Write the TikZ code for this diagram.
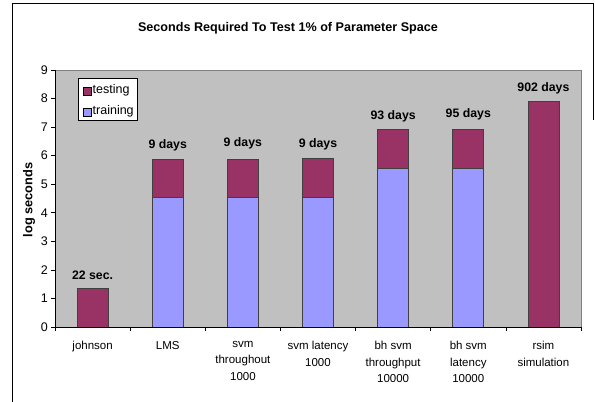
\documentclass[tikz,border=0pt]{standalone}
\usepackage{fontspec}
\setmainfont{Liberation Sans}
\definecolor{testc}{HTML}{993366}
\definecolor{trainc}{HTML}{9999FF}
\definecolor{plotbg}{HTML}{C0C0C0}
\begin{document}
\begin{tikzpicture}[x=1pt,y=-1pt,
  testbar/.style={fill=testc,draw=black!75,line width=0.7pt},
  trainbar/.style={fill=trainc,draw=black!75,line width=0.7pt},
  datalbl/.style={font=\fontsize{12.3}{14}\selectfont\bfseries,inner sep=0pt},
  catlbl/.style={font=\fontsize{11.5}{16.5}\selectfont,align=center,anchor=north,inner sep=0pt},
  ticklbl/.style={font=\fontsize{12.5}{14}\selectfont,anchor=east,inner sep=0pt},
  leglbl/.style={font=\fontsize{12.5}{14}\selectfont,anchor=west,inner sep=0pt},
  axisline/.style={draw=black,line width=0.6pt}]
\useasboundingbox (0,0) rectangle (595,402);
% outer frame
\draw[line width=0.8pt] (12,402) -- (12,3) -- (593,3) -- (593,120);
% title
\node[font=\fontsize{12.6}{14}\selectfont\bfseries,inner sep=0pt] (title) at (288,28) {Seconds Required To Test 1\% of Parameter Space};
% plot area
\fill[plotbg] (55,70) rectangle (581,327);
\draw[black!50,line width=0.7pt] (55,70) -- (581,70) -- (581,327);
% bars
\foreach \i/\tr/\tot in {0/0/1.342,1/4.54/5.87,2/4.54/5.87,3/4.54/5.91,4/5.56/6.905,5/5.56/6.914,6/0/7.89}{
  \pgfmathsetmacro{\xc}{55+75.143*(\i+0.5)}
  \pgfmathsetmacro{\ytr}{327-28.56*\tr}
  \pgfmathsetmacro{\ytot}{327-28.56*\tot}
  \ifdim\tr pt>0pt
    \draw[trainbar] (\xc-15.5,327) rectangle (\xc+15.5,\ytr);
  \fi
  \draw[testbar] (\xc-15.5,\ytr) rectangle (\xc+15.5,\ytot);
  \coordinate (top\i) at (\xc,\ytot);
}
% axes
\draw[axisline] (55,70) -- (55,327) -- (581,327);
\foreach \v in {0,...,9}{
  \pgfmathsetmacro{\yy}{327-28.56*\v}
  \draw[axisline] (51,\yy) -- (55,\yy);
  \node[ticklbl] (tick\v) at (48,\yy) {\v};
}
\foreach \k in {0,...,7}{
  \pgfmathsetmacro{\xx}{55+75.143*\k}
  \draw[axisline] (\xx,327) -- (\xx,331);
}
% axis title
\node[font=\fontsize{12.8}{14}\selectfont\bfseries,rotate=90,inner sep=0pt] (ytitle) at (29,200) {log seconds};
% data labels
\node[datalbl] (d0) at ([yshift=13.7pt]top0) {22 sec.};
\node[datalbl] (d1) at ([yshift=13.7pt]top1) {9 days};
\node[datalbl] (d2) at ([yshift=16pt]top2) {9 days};
\node[datalbl] (d3) at ([yshift=13.7pt]top3) {9 days};
\node[datalbl] (d4) at ([yshift=13.7pt]top4) {93 days};
\node[datalbl] (d5) at ([yshift=15pt]top5) {95 days};
\node[datalbl] (d6) at ([yshift=13.7pt]top6) {902 days};
% category labels
\node[catlbl] (c0) at (92.6,341) {johnson};
\node[catlbl] (c1) at (167.7,341) {LMS};
\node[catlbl] (c2) at (242.9,341) {svm\\throughout\\1000};
\node[catlbl] (c3) at (318.0,341) {svm latency\\1000};
\node[catlbl] (c4) at (393.1,341) {bh svm\\throughput\\10000};
\node[catlbl] (c5) at (468.3,341) {bh svm\\latency\\10000};
\node[catlbl] (c6) at (543.4,341) {rsim\\simulation};
% legend
\draw[fill=white,draw=black,line width=0.6pt] (78.5,78.5) rectangle (137,120);
\draw[fill=testc,draw=black,line width=0.5pt] (83,87.5) rectangle (91,95);
\draw[fill=trainc,draw=black,line width=0.5pt] (83,108.5) rectangle (91,116);
\node[leglbl] (lg1) at (92.5,90.5) {testing};
\node[leglbl] (lg2) at (92.5,111.5) {training};
\end{tikzpicture}
\end{document}
